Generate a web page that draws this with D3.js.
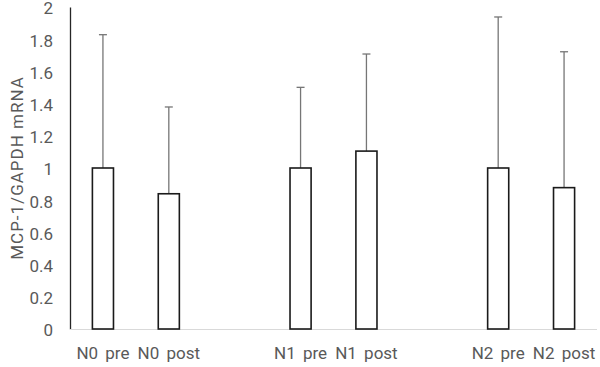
<!DOCTYPE html>
<html>
<head>
<meta charset="utf-8">
<script src="https://cdn.jsdelivr.net/npm/d3@7"></script>
<style>
  body { margin: 0; background: #fff; }
</style>
</head>
<body>
<div class="chart"></div>
<script>
// Chart data
var categories = ["N0 pre", "N0 post", "", "N1 pre", "N1 post", " ", "N2 pre", "N2 post"];
var means = [1.0, 0.84, null, 1.0, 1.105, null, 1.0, 0.878];
var upperErr = [1.828, 1.379, null, 1.501, 1.708, null, 1.938, 1.722];
var yTicks = [0, 0.2, 0.4, 0.6, 0.8, 1, 1.2, 1.4, 1.6, 1.8, 2];

var margin = {top: 7, right: 3, bottom: 38, left: 70},
  width = 600 - margin.left - margin.right,
  height = 367 - margin.top - margin.bottom;

var font = "17px Roboto";
var textColor = "#595959";

var svg = d3.select(".chart")
  .append("svg")
  .attr("width", 600)
  .attr("height", 367)
  .append("g")
  .attr("transform", "translate(" + margin.left + "," + margin.top + ")");

// Y scale
var y = d3.scaleLinear()
  .domain([0, 2])
  .range([height, 0]);

// X scale
var x = d3.scaleBand()
  .domain(categories)
  .range([0, width])
  .paddingInner(0)
  .paddingOuter(0);

var barW = x.bandwidth() * 0.32;

// Y axis
svg.append("g")
  .style("font", font)
  .call(d3.axisLeft(y).tickValues(yTicks).tickSize(0).tickFormat(d3.format("")))
  .call(g => g.select(".domain").attr("stroke", "#262626").attr("stroke-width", 1.3))
  .call(g => g.selectAll(".tick text").attr("x", -17).attr("dy", "0.4em").attr("fill", textColor));

// Y axis title
svg.append("text")
  .attr("transform", "rotate(-90)")
  .attr("x", -height / 2)
  .attr("y", -margin.left + 17)
  .attr("dy", "0.35em")
  .style("font", font)
  .style("letter-spacing", "1px")
  .style("text-anchor", "middle")
  .attr("fill", textColor)
  .text("MCP-1/GAPDH mRNA");

// X baseline
svg.append("line")
  .attr("x1", 0)
  .attr("x2", width)
  .attr("y1", y(0) + 0.5)
  .attr("y2", y(0) + 0.5)
  .attr("stroke", "#d9d9d9")
  .attr("stroke-width", 1);

// X axis labels
svg.append("g")
  .attr("transform", "translate(0," + height + ")")
  .style("font", font)
  .call(d3.axisBottom(x).tickSize(0))
  .call(g => g.select(".domain").remove())
  .call(g => g.selectAll(".tick text").attr("y", 18).attr("fill", textColor).style("word-spacing", "3px"));

var data = categories.map(function(c, i) {
  return {cat: c, value: means[i], err: upperErr[i]};
}).filter(d => d.value != null);

// Error bars
var errs = svg.selectAll(".err")
  .data(data)
  .enter().append("g")
  .attr("class", "err");

errs.append("line")
  .attr("x1", d => x(d.cat) + x.bandwidth() / 2)
  .attr("x2", d => x(d.cat) + x.bandwidth() / 2)
  .attr("y1", d => y(d.value))
  .attr("y2", d => y(d.err))
  .attr("stroke", "#767676")
  .attr("stroke-width", 1.3);

errs.append("line")
  .attr("x1", d => x(d.cat) + x.bandwidth() / 2 - 4)
  .attr("x2", d => x(d.cat) + x.bandwidth() / 2 + 4)
  .attr("y1", d => y(d.err))
  .attr("y2", d => y(d.err))
  .attr("stroke", "#767676")
  .attr("stroke-width", 1.3);

// Bars
svg.selectAll(".bar")
  .data(data)
  .enter().append("rect")
  .attr("class", "bar")
  .attr("x", d => x(d.cat) + x.bandwidth() / 2 - barW / 2)
  .attr("y", d => y(d.value))
  .attr("width", barW)
  .attr("height", d => y(0) - y(d.value))
  .attr("fill", "#ffffff")
  .attr("stroke", "#1a1a1a")
  .attr("stroke-width", 1.6);
</script>
</body>
</html>
